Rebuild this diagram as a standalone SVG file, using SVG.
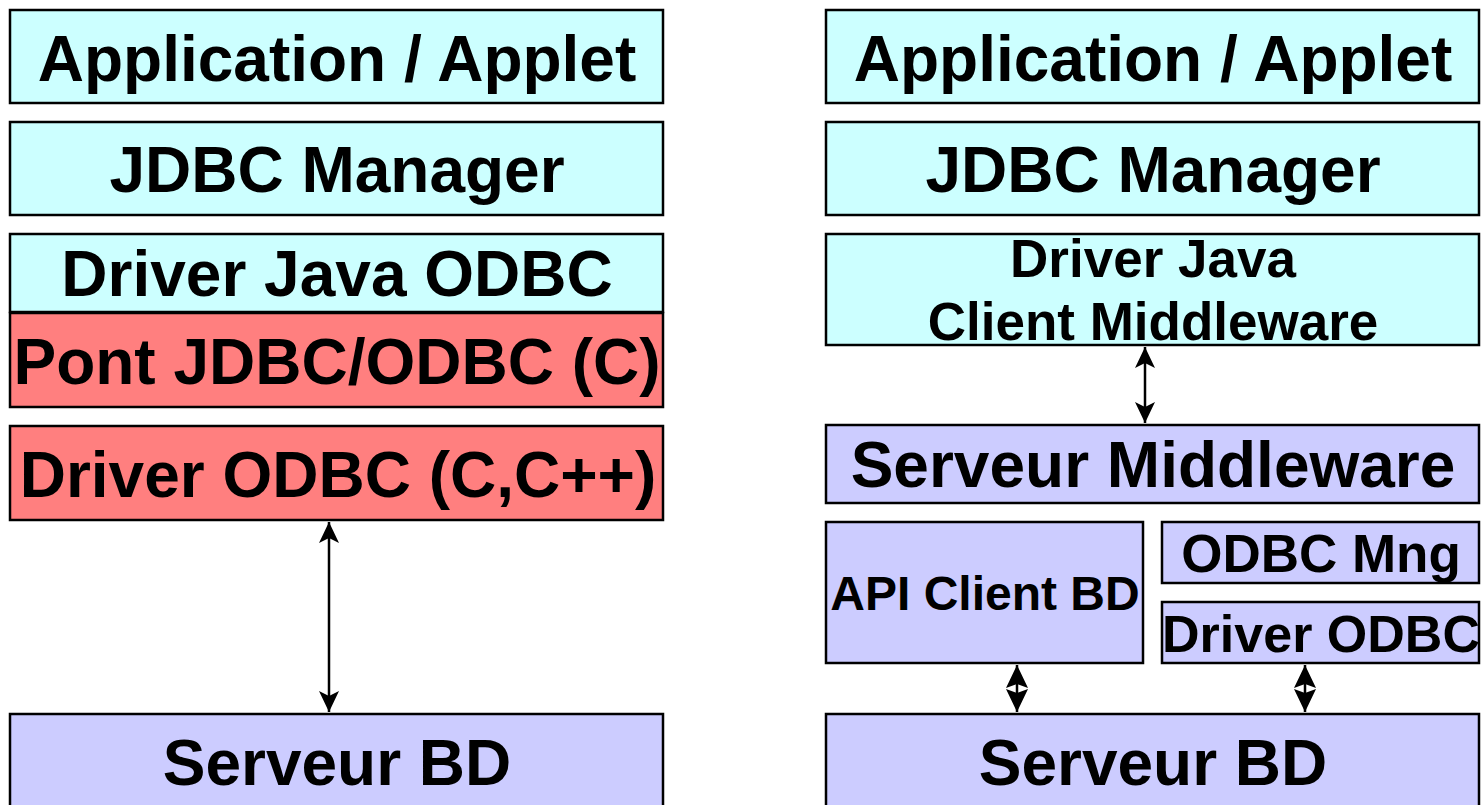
<svg xmlns="http://www.w3.org/2000/svg" width="1482" height="805" viewBox="0 0 1482 805">
  <style>
    .box { stroke: #000; stroke-width: 2.5; }
    .java { fill: #CCFFFF; }
    .native { fill: #FF7F7F; }
    .server { fill: #CCCCFF; }
    text { font-family: "Liberation Sans", Arial, sans-serif; font-weight: bold; fill: #000; text-anchor: middle; }
    .big { font-size: 64px; }
    .mid { font-size: 53px; }
    .link { stroke: #000; stroke-width: 2.5; fill: none; }
  </style>
  <defs>
    <marker id="head" markerUnits="userSpaceOnUse" viewBox="-22 -11 23 22" refX="0" refY="0" markerWidth="23" markerHeight="22" orient="auto-start-reverse">
      <path d="M0,0 L-21,-10 L-16,0 L-21,10 Z" fill="#000"/>
    </marker>
    <marker id="headS" markerUnits="userSpaceOnUse" viewBox="-24 -12 25 24" refX="0" refY="0" markerWidth="25" markerHeight="24" orient="auto-start-reverse">
      <path d="M0,0 L-23,-11 L-19,0 L-23,11 Z" fill="#000"/>
    </marker>
  </defs>

  <rect width="1482" height="805" fill="#fff"/>

  <!-- Left stack: JDBC-ODBC bridge -->
  <g id="l-app">
    <rect class="box java" x="10" y="10" width="653" height="93"/>
    <text class="big" x="337" y="81">Application / Applet</text>
  </g>
  <g id="l-jdbc">
    <rect class="box java" x="10" y="122" width="653" height="93"/>
    <text class="big" x="337" y="192">JDBC Manager</text>
  </g>
  <g id="l-driver-java-odbc">
    <rect class="box java" x="10" y="234" width="653" height="78"/>
    <text class="big" x="337" y="296">Driver Java ODBC</text>
  </g>
  <g id="l-pont">
    <rect class="box native" x="10" y="313" width="653" height="94"/>
    <text class="big" x="337" y="384">Pont JDBC/ODBC (C)</text>
  </g>
  <g id="l-driver-odbc">
    <rect class="box native" x="10" y="426" width="653" height="94"/>
    <text class="big" x="338" y="497">Driver ODBC (C,C++)</text>
  </g>
  <g id="l-serveur-bd">
    <rect class="box server" x="10" y="714" width="653" height="100"/>
    <text class="big" x="337" y="785">Serveur BD</text>
  </g>

  <!-- Right stack: middleware -->
  <g id="r-app">
    <rect class="box java" x="826" y="10" width="653" height="93"/>
    <text class="big" x="1153" y="81">Application / Applet</text>
  </g>
  <g id="r-jdbc">
    <rect class="box java" x="826" y="122" width="653" height="93"/>
    <text class="big" x="1153" y="192">JDBC Manager</text>
  </g>
  <g id="r-driver-java">
    <rect class="box java" x="826" y="234" width="653" height="111"/>
    <text class="mid" x="1153" y="277">Driver Java</text>
    <text class="mid" x="1153" y="340">Client Middleware</text>
  </g>
  <g id="r-serveur-mw">
    <rect class="box server" x="826" y="425" width="653" height="78"/>
    <text class="big" x="1153" y="487">Serveur Middleware</text>
  </g>
  <g id="r-api">
    <rect class="box server" x="826" y="522" width="317" height="141"/>
    <text x="985" y="610" style="font-size:48px">API Client BD</text>
  </g>
  <g id="r-odbc-mng">
    <rect class="box server" x="1162" y="522" width="317" height="61"/>
    <text x="1321" y="572" style="font-size:53px">ODBC Mng</text>
  </g>
  <g id="r-driver-odbc">
    <rect class="box server" x="1162" y="602" width="317" height="61"/>
    <text x="1321" y="652" style="font-size:52px">Driver ODBC</text>
  </g>
  <g id="r-serveur-bd">
    <rect class="box server" x="826" y="714" width="653" height="100"/>
    <text class="big" x="1153" y="785">Serveur BD</text>
  </g>

  <!-- Connectors -->
  <g id="connectors">
    <line class="link" x1="329" y1="522" x2="329" y2="712" marker-start="url(#head)" marker-end="url(#head)"/>
    <line class="link" x1="1145" y1="347" x2="1145" y2="423" marker-start="url(#head)" marker-end="url(#head)"/>
    <line class="link" x1="1017" y1="665" x2="1017" y2="712" marker-start="url(#headS)" marker-end="url(#headS)"/>
    <line class="link" x1="1305" y1="665" x2="1305" y2="712" marker-start="url(#headS)" marker-end="url(#headS)"/>
  </g>
</svg>
